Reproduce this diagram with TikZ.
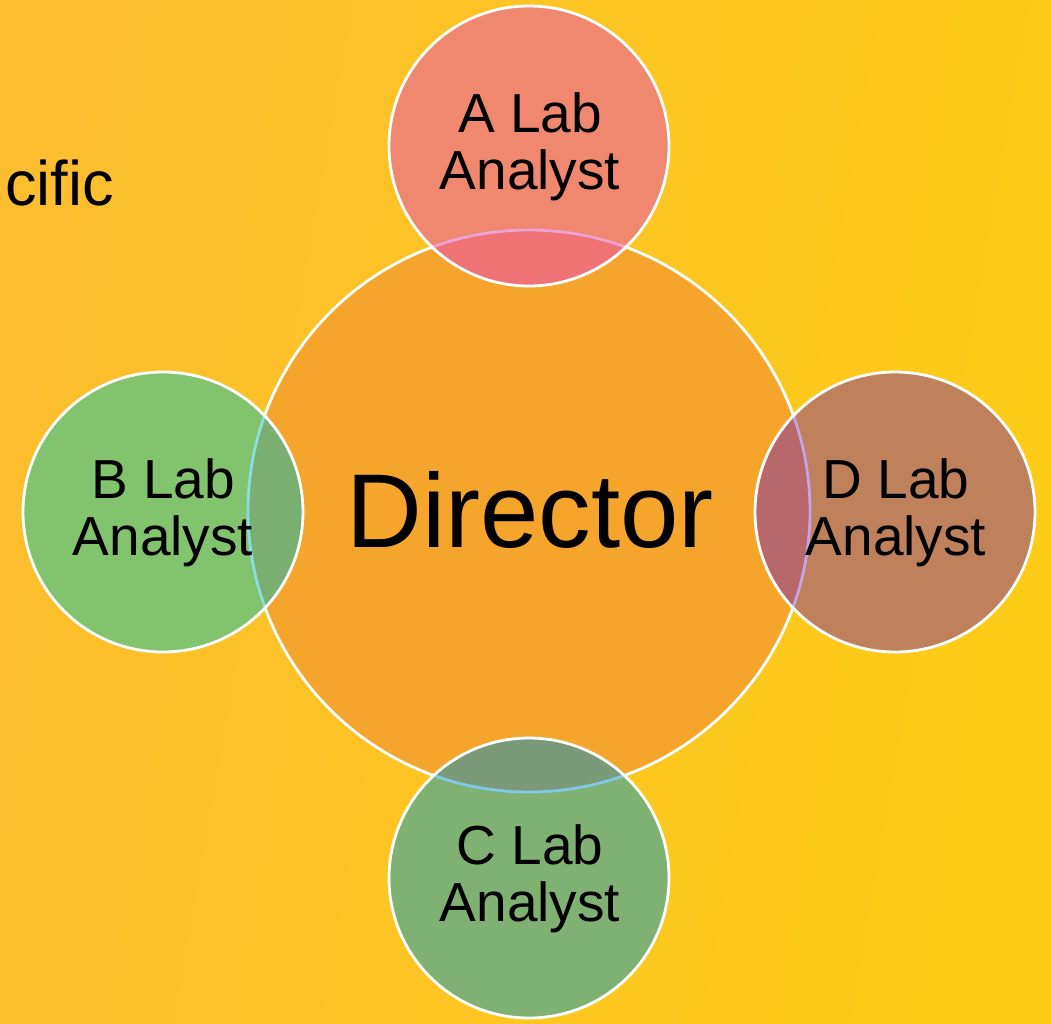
\documentclass[tikz,border=0pt]{standalone}
\usepackage{fontspec}
\setmainfont{Liberation Sans}
\definecolor{bgL}{HTML}{FCBE2E}
\definecolor{bgR}{HTML}{FECC16}
\definecolor{dirC}{HTML}{F6A52C}
\definecolor{aC}{HTML}{F0876F}
\definecolor{aO}{HTML}{EF7375}
\definecolor{aS}{HTML}{F2A2D2}
\definecolor{bC}{HTML}{82C46D}
\definecolor{bO}{HTML}{7BAF72}
\definecolor{bS}{HTML}{86E0E0}
\definecolor{dC}{HTML}{BF805C}
\definecolor{dO}{HTML}{B8676A}
\definecolor{dS}{HTML}{C4A4E4}
\definecolor{cC}{HTML}{7FB172}
\definecolor{cO}{HTML}{7A9A7A}
\definecolor{cS}{HTML}{80C8E8}
\tikzset{
  ring/.style={draw=white, line width=2.8pt},
  small/.style={font=\fontsize{55}{57}\selectfont, align=center, text=black, inner sep=0pt},
  big/.style={font=\fontsize{105}{110}\selectfont, text=black, inner sep=0pt}
}
\begin{document}
\begin{tikzpicture}[x=1pt,y=-1pt]
\useasboundingbox (0,0) rectangle (1051,1023);
\shade[left color=bgL, right color=bgR, shading angle=80] (0,0) rectangle (1051,1023);
\node[anchor=base east, font=\fontsize{63}{65}\selectfont, inner sep=0pt] (cific) at (114,205) {cific};
% coordinates
\coordinate (dc) at (529,511);
\coordinate (ac) at (529,146);
\coordinate (bc) at (163,512);
\coordinate (cc) at (529,878);
\coordinate (ddc) at (895,512);
% director
\fill[dirC] (dc) circle (281);
\draw[ring] (dc) circle (281);
% satellites fills
\fill[aC] (ac) circle (140);
\fill[bC] (bc) circle (140);
\fill[cC] (cc) circle (140);
\fill[dC] (ddc) circle (140);
% overlaps
\begin{scope}\clip (dc) circle (281); \fill[aO] (ac) circle (140); \fill[bO] (bc) circle (140); \fill[cO] (cc) circle (140); \fill[dO] (ddc) circle (140); \end{scope}
\begin{scope}\clip (ac) circle (140); \draw[aS, line width=2.8pt] (dc) circle (281); \end{scope}
\begin{scope}\clip (bc) circle (140); \draw[bS, line width=2.8pt] (dc) circle (281); \end{scope}
\begin{scope}\clip (cc) circle (140); \draw[cS, line width=2.8pt] (dc) circle (281); \end{scope}
\begin{scope}\clip (ddc) circle (140); \draw[dS, line width=2.8pt] (dc) circle (281); \end{scope}
% rings
\draw[ring] (ac) circle (140);
\draw[ring] (bc) circle (140);
\draw[ring] (cc) circle (140);
\draw[ring] (ddc) circle (140);
% texts
\node[big] (dir) at (530,510) {Director};
\node[small] (a) at (530,147) {A Lab\\Analyst};
\node[small] (b) at (163,513) {B Lab\\Analyst};
\node[small] (d) at (896,513) {D Lab\\Analyst};
\node[small] (c) at (530,879) {C Lab\\Analyst};
\end{tikzpicture}
\end{document}
